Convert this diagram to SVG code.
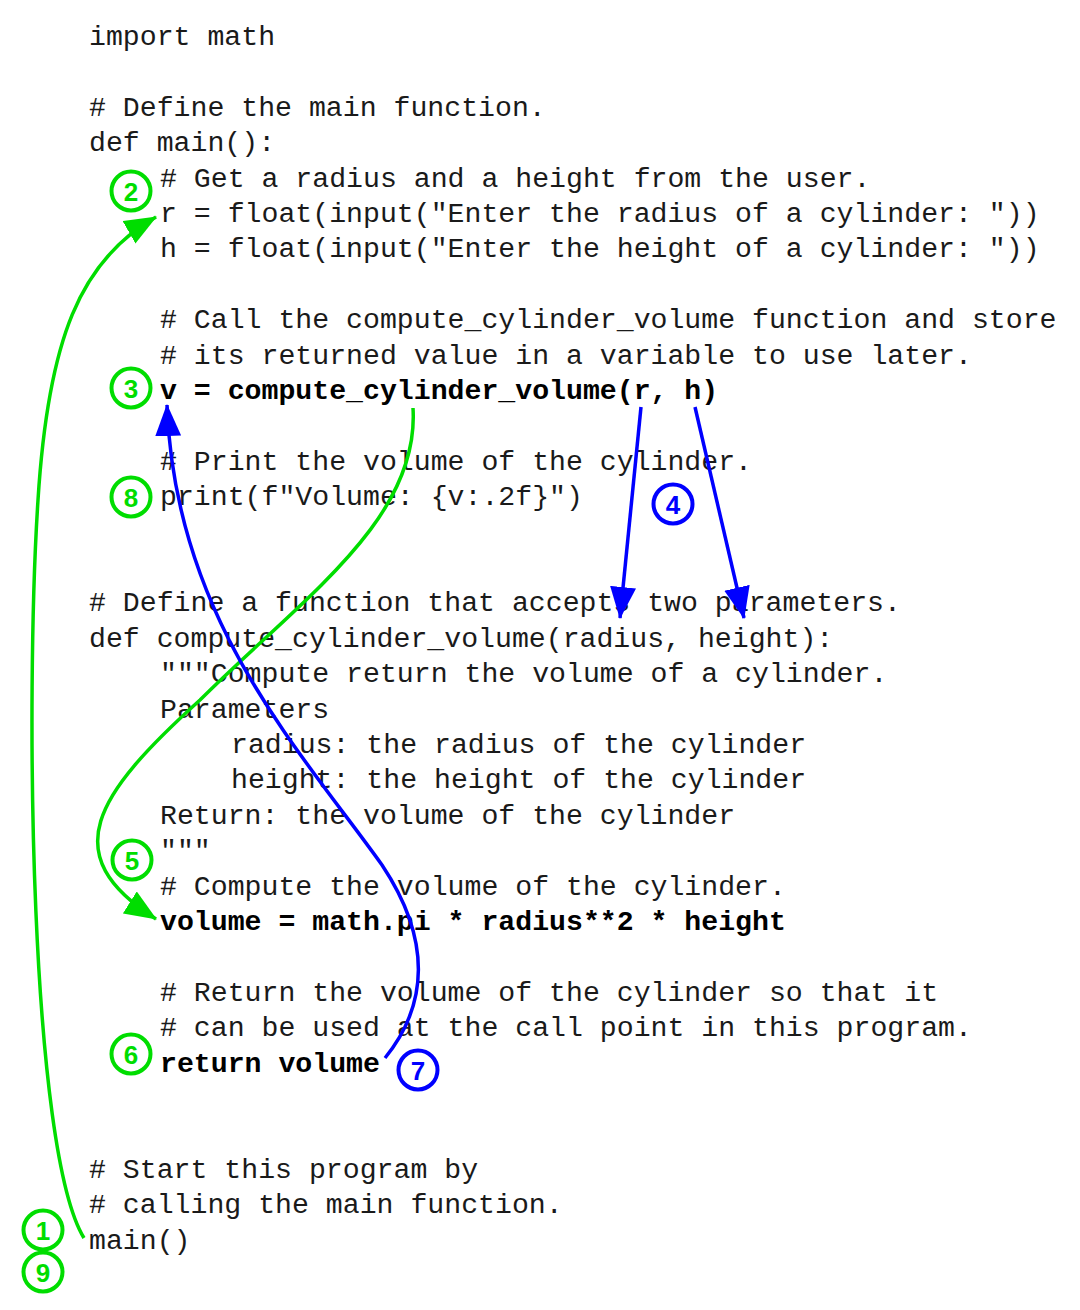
<svg xmlns="http://www.w3.org/2000/svg" width="1080" height="1310" viewBox="0 0 1080 1310">
<style>
.code{font-family:"Liberation Mono","Courier New",monospace;font-size:28.2px;fill:#1a1a1a}
.b{font-weight:bold;fill:#000}
.g circle{fill:#fff;stroke:#00DD00;stroke-width:4}
.g text{fill:#00DD00}
.bl circle{fill:#fff;stroke:#0000FF;stroke-width:4}
.bl text{fill:#0000FF}
.num{font-family:"Liberation Sans",Arial,sans-serif;font-weight:bold;font-size:26px;text-anchor:middle}
.cg{fill:none;stroke:#00DD00;stroke-width:3.5}
.cb{fill:none;stroke:#0000FF;stroke-width:3.5}
</style>
<defs>
<marker id="ag" markerUnits="userSpaceOnUse" markerWidth="32" markerHeight="26" refX="31" refY="13" orient="auto"><path d="M0,0 L32,13 L0,26 z" fill="#00DD00"/></marker>
<marker id="ab" markerUnits="userSpaceOnUse" markerWidth="32" markerHeight="26" refX="31" refY="13" orient="auto"><path d="M0,0 L32,13 L0,26 z" fill="#0000FF"/></marker>
</defs>
<rect width="1080" height="1310" fill="#fff"/>
<g id="code" class="code">
<text x="89" y="45">import math</text>
<text x="89" y="115.8"># Define the main function.</text>
<text x="89" y="151.2">def main():</text>
<text x="160" y="186.6"># Get a radius and a height from the user.</text>
<text x="160" y="222">r = float(input("Enter the radius of a cylinder: "))</text>
<text x="160" y="257.4">h = float(input("Enter the height of a cylinder: "))</text>
<text x="160" y="328.2"># Call the compute_cylinder_volume function and store</text>
<text x="160" y="363.6"># its returned value in a variable to use later.</text>
<text x="160" y="399" class="b">v = compute_cylinder_volume(r, h)</text>
<text x="160" y="469.8"># Print the volume of the cylinder.</text>
<text x="160" y="505.2">print(f"Volume: {v:.2f}")</text>
<text x="89" y="611.4"># Define a function that accepts two parameters.</text>
<text x="89" y="646.8">def compute_cylinder_volume(radius, height):</text>
<text x="160" y="682.2">"""Compute return the volume of a cylinder.</text>
<text x="160" y="717.6">Parameters</text>
<text x="231" y="753">radius: the radius of the cylinder</text>
<text x="231" y="788.4">height: the height of the cylinder</text>
<text x="160" y="823.8">Return: the volume of the cylinder</text>
<text x="160" y="859.2">"""</text>
<text x="160" y="894.6"># Compute the volume of the cylinder.</text>
<text x="160" y="930" class="b">volume = math.pi * radius**2 * height</text>
<text x="160" y="1000.8"># Return the volume of the cylinder so that it</text>
<text x="160" y="1036.2"># can be used at the call point in this program.</text>
<text x="160" y="1071.6" class="b">return volume</text>
<text x="89" y="1177.8"># Start this program by</text>
<text x="89" y="1213.2"># calling the main function.</text>
<text x="89" y="1248.6">main()</text>
</g>
<g id="step1" class="g"><circle cx="43" cy="1230" r="19.5"/><text class="num" x="43" y="1239.5">1</text></g>
<g id="step9" class="g"><circle cx="43" cy="1272" r="19.5"/><text class="num" x="43" y="1281.5">9</text></g>
<g id="step2" class="g"><circle cx="131" cy="191" r="19.5"/><text class="num" x="131" y="200.5">2</text></g>
<g id="step3" class="g"><circle cx="131" cy="388" r="19.5"/><text class="num" x="131" y="397.5">3</text></g>
<g id="step8" class="g"><circle cx="131" cy="497" r="19.5"/><text class="num" x="131" y="506.5">8</text></g>
<g id="step5" class="g"><circle cx="132" cy="860" r="19.5"/><text class="num" x="132" y="869.5">5</text></g>
<g id="step6" class="g"><circle cx="131" cy="1054" r="19.5"/><text class="num" x="131" y="1063.5">6</text></g>
<g id="step4" class="bl"><circle cx="673" cy="504" r="19.5"/><text class="num" x="673" y="513.5">4</text></g>
<g id="step7" class="bl"><circle cx="418" cy="1070" r="19.5"/><text class="num" x="418" y="1079.5">7</text></g>
<g id="connectors">
<path class="cg" marker-end="url(#ag)" d="M84,1238 C30,1150 25,700 38,500 C48,340 80,260 156,217"/>
<path class="cg" marker-end="url(#ag)" d="M413,408 C420,520 300,600 200,700 C95,795 55,855 156,919"/>
<path class="cb" marker-end="url(#ab)" d="M641,407 L620,618"/>
<path class="cb" marker-end="url(#ab)" d="M695,407 L744,618"/>
<path class="cb" marker-end="url(#ab)" d="M385,1058 C428,1005 432,940 382,865 C300,750 175,620 167,405"/>
</g>
</svg>
